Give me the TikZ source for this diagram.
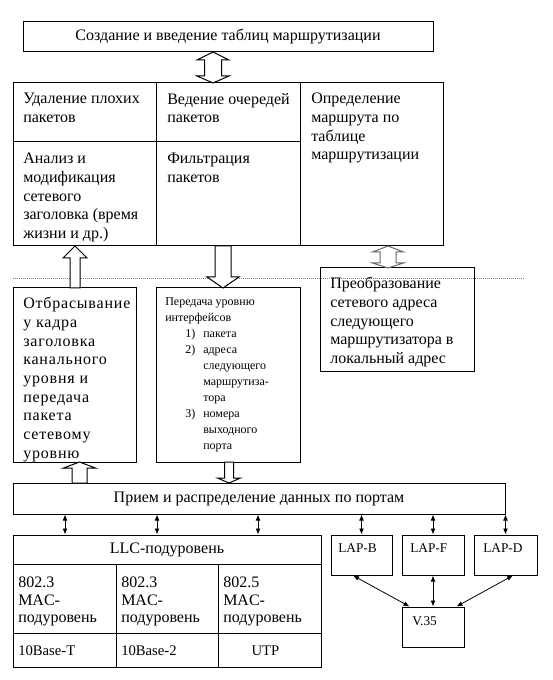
\documentclass[tikz,border=0pt]{standalone}
\usepackage{fontspec}
\setmainfont{Liberation Serif}
\usetikzlibrary{fit,calc,arrows.meta}
\newcommand\hollowArrow[6]{% cx, tip y, base y, tail y, shaft half, head half
  \draw[hol] (#1-#5,#4) -- (#1-#5,#3) -- (#1-#6,#3) -- (#1,#2) -- (#1+#6,#3) -- (#1+#5,#3) -- (#1+#5,#4) -- cycle;}
\newcommand\hollowDouble[8]{% cx, tip1, base1, base2, tip2, shaft half, head half, colour
  \draw[hol,draw=#8] (#1,#2) -- (#1+#7,#3) -- (#1+#6,#3) -- (#1+#6,#4) -- (#1+#7,#4) -- (#1,#5) -- (#1-#7,#4) -- (#1-#6,#4) -- (#1-#6,#3) -- (#1-#7,#3) -- cycle;}
\begin{document}
\begin{tikzpicture}[x=0.75pt,y={(0pt,-0.75pt)},
  box/.style={draw, line width=0.75pt, inner sep=0pt},
  ctxt/.style={inner sep=0pt, anchor=center, font=\fontsize{12}{14}\selectfont},
  txt/.style={anchor=north west, inner sep=0pt, align=left, font=\fontsize{12}{14}\selectfont},
  txtsmall/.style={anchor=north west, inner sep=0pt, align=left, font=\fontsize{9}{12}\selectfont},
  txtlap/.style={anchor=north west, inner sep=0pt, align=left, font=\fontsize{10}{12}\selectfont},
  hol/.style={draw=black, fill=white, line width=0.75pt, line join=miter},
  dbl/.style={line width=0.6pt, {Latex[length=4.5pt,width=3.6pt]}-{Latex[length=4.5pt,width=3.6pt]}}]
\useasboundingbox (0,0) rectangle (552,680);
\fill[white] (0,0) rectangle (552,680);

% top box
\node[box, fit={(23,22)(433,52)}] (top) {};
\node[ctxt] at (top.center) {Создание и введение таблиц маршрутизации};

% main block
\node[box, fit={(13,83)(156,142)}] (c11) {};
\node[box, fit={(156,83)(300,142)}] (c12) {};
\node[box, fit={(13,142)(156,246)}] (c21) {};
\node[box, fit={(156,142)(300,246)}] (c22) {};
\node[box, fit={(300,83)(443,246)}] (c3) {};
\node[txt] at (23,93) {Удаление плохих\\пакетов};
\node[txt] at (167,93) {Ведение очередей\\пакетов};
\node[txt] at (23,153) {Анализ и\\модификация\\сетевого\\заголовка (время\\жизни и др.)};
\node[txt] at (167,153) {Фильтрация\\пакетов};
\node[txt] at (311,93) {Определение\\маршрута по\\таблице\\маршрутизации};

% dotted separator
\coordinate (dl) at (13,279);
\coordinate (dr) at (525,279);
\draw[gray, line width=0.75pt, dash pattern=on 0.75pt off 0.75pt] (dl) -- (dr);

% middle boxes
\node[box, fit={(320.7,268)(474,371)}] (pre) {};
\node[txt] at (330,277) {Преобразование\\сетевого адреса\\следующего\\маршрутизатора в\\локальный адрес};
\node[box, fit={(13,288)(136.5,462)}] (otb) {};
\node[txt, font=\fontsize{12}{14}\selectfont\addfontfeature{LetterSpace=5}] at (23,297) {Отбрасывание\\у кадра\\заголовка\\канального\\уровня и\\передача\\пакета\\сетевому\\уровню};
\node[box, fit={(156.5,288)(300,462)}] (per) {};
\node[txtsmall] at (165,297) {Передача уровню\\интерфейсов\\
\makebox[28.5pt][l]{\hspace*{15pt}1)}пакета\\
\makebox[28.5pt][l]{\hspace*{15pt}2)}адреса\\
\hspace*{28.5pt}следующего\\
\hspace*{28.5pt}маршрутиза-\\
\hspace*{28.5pt}тора\\
\makebox[28.5pt][l]{\hspace*{15pt}3)}номера\\
\hspace*{28.5pt}выходного\\
\hspace*{28.5pt}порта};

% receive box
\node[box, fit={(13,483)(505,514)}] (prm) {};
\node[ctxt] at (prm.center) {Прием и распределение данных по портам};

% LLC block
\node[box, fit={(13,535)(321,564)}] (llc) {};
\node[ctxt] at (llc.center) {LLC-подуровень};
\node[box, fit={(13,564)(116,633)}] (m1) {};
\node[box, fit={(116,564)(218,633)}] (m2) {};
\node[box, fit={(218,564)(321,633)}] (m3) {};
\node[txt, font=\fontsize{12}{13}\selectfont] at (18,577) {802.3\\MAC-\\подуровень};
\node[txt, font=\fontsize{12}{13}\selectfont] at (121,577) {802.3\\MAC-\\подуровень};
\node[txt, font=\fontsize{12}{13}\selectfont] at (223,577) {802.5\\MAC-\\подуровень};
\node[box, fit={(13,633)(116,667)}] (p1) {};
\node[box, fit={(116,633)(218,667)}] (p2) {};
\node[box, fit={(218,633)(321,667)}] (p3) {};
\node[ctxt, font=\fontsize{11}{13}\selectfont] at ($(p3.center)+(-4,1)$) {UTP};
\node[anchor=west, inner sep=0pt, font=\fontsize{11}{13}\selectfont] at (18,651) {10Base-T};
\node[anchor=west, inner sep=0pt, font=\fontsize{11}{13}\selectfont] at (121,651) {10Base-2};

% LAP boxes
\node[box, fit={(331,535)(392,575)}] (lapb) {};
\node[box, fit={(402,535)(464,575)}] (lapf) {};
\node[box, fit={(474,535)(537,575)}] (lapd) {};
\node[box, fit={(402,607)(464,647)}] (v35) {};
\node[txtlap] at (338,543) {LAP-B};
\node[txtlap] at (410,543) {LAP-F};
\node[txtlap] at (483,543) {LAP-D};
\node[txtlap] at (412,616) {V.35};

% small double arrows
\coordinate (x1) at (65,0);
\coordinate (x2) at (157,0);
\coordinate (x3) at (258,0);
\draw[dbl] (prm.south -| x1) -- (llc.north -| x1);
\draw[dbl] (prm.south -| x2) -- (llc.north -| x2);
\draw[dbl] (prm.south -| x3) -- (llc.north -| x3);
\draw[dbl] (prm.south -| lapb.north) -- (lapb.north);
\draw[dbl] (prm.south -| lapf.north) -- (lapf.north);
\draw[dbl] (prm.south -| lapd.north) -- (lapd.north);
\draw[dbl] ($(lapb.south)+(-8.5,0)$) -- ($(v35.north west)+(8,0)$);
\draw[dbl] (lapf.south) -- (v35.north);
\draw[dbl] ($(lapd.south)+(7.5,0)$) -- ($(v35.north east)+(-8,0)$);

% hollow arrows
\hollowDouble{213}{52}{60}{76}{83}{8.5}{16}{black}
\hollowDouble{388}{246}{252}{263}{268}{8}{15.5}{black!60}
\hollowArrow{75}{246}{258}{288}{5}{12}
\hollowArrow{223}{288}{277}{246}{8}{16}
\hollowArrow{79.5}{462}{468}{483}{7.5}{16}
\hollowArrow{229}{483}{478}{462}{4.5}{11.5}
\end{tikzpicture}
\end{document}
